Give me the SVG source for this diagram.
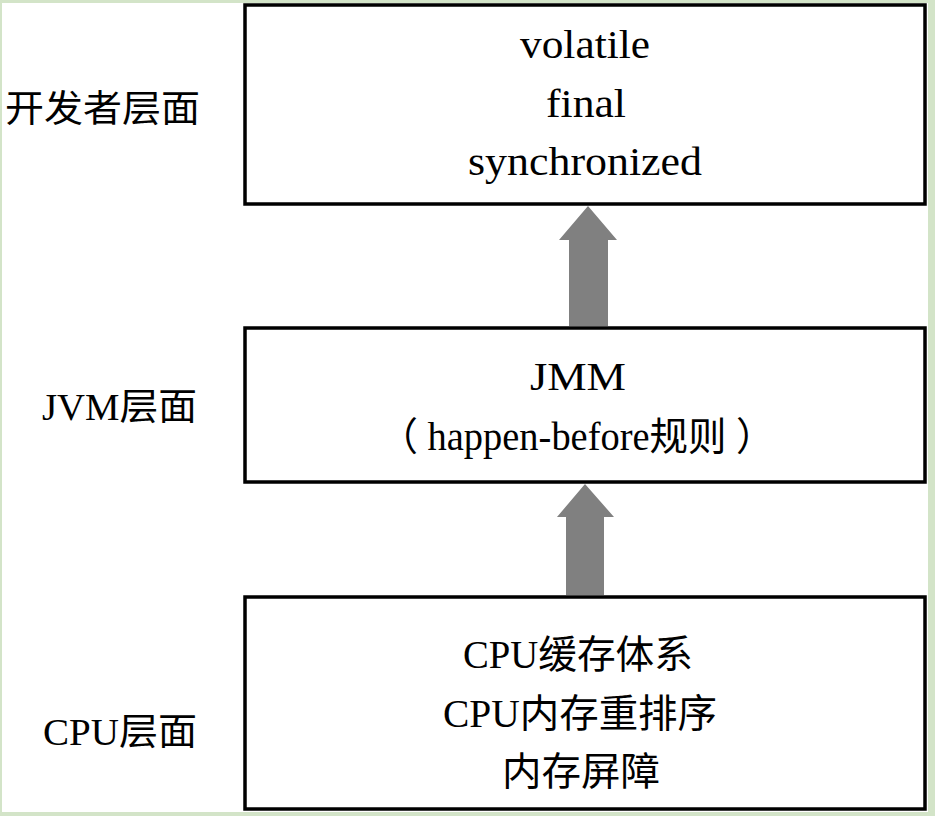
<svg xmlns="http://www.w3.org/2000/svg" width="935" height="816" viewBox="0 0 935 816">
<style>
.box{fill:#ffffff;stroke:#000000;stroke-width:3.5}
.t{font-family:"Liberation Serif","Noto Sans CJK SC",serif;font-size:39px;fill:#000;text-anchor:middle}
.l{font-family:"Liberation Serif","Noto Sans CJK SC",serif;font-size:37px;fill:#000}
.arr{fill:#808080}
</style>
<rect x="0" y="0" width="935" height="816" fill="#d3e4c8"/>
<rect x="2" y="3" width="926" height="809" fill="#ffffff"/>
<g id="layer-dev-label"><text class="l" x="5" y="122" textLength="195" lengthAdjust="spacingAndGlyphs">开发者层面</text></g>
<g id="layer-jvm-label"><text class="l" x="42" y="420" textLength="155" lengthAdjust="spacingAndGlyphs">JVM层面</text></g>
<g id="layer-cpu-label"><text class="l" x="43" y="745" textLength="154" lengthAdjust="spacingAndGlyphs">CPU层面</text></g>
<g id="dev">
<rect class="box" x="245" y="5" width="680" height="199"/>
<text class="t" x="585" y="58" textLength="130" lengthAdjust="spacingAndGlyphs">volatile</text>
<text class="t" x="586" y="117" textLength="80" lengthAdjust="spacingAndGlyphs">final</text>
<text class="t" x="585" y="175" textLength="234" lengthAdjust="spacingAndGlyphs">synchronized</text>
</g>
<g id="jvm">
<rect class="box" x="245" y="328" width="680" height="154"/>
<text class="t" x="578" y="390" textLength="96" lengthAdjust="spacingAndGlyphs">JMM</text>
<text class="t" x="577" y="450" textLength="395" lengthAdjust="spacingAndGlyphs">（ happen-before规则 ）</text>
</g>
<g id="cpu">
<rect class="box" x="245" y="597" width="680" height="212"/>
<text class="t" x="578" y="668" textLength="230" lengthAdjust="spacingAndGlyphs">CPU缓存体系</text>
<text class="t" x="580" y="727" textLength="274" lengthAdjust="spacingAndGlyphs">CPU内存重排序</text>
<text class="t" x="581" y="785" textLength="158" lengthAdjust="spacingAndGlyphs">内存屏障</text>
</g>
<g id="connectors">
<polygon class="arr" points="588,206 617,240 608,240 608,326 569,326 569,240 559,240"/>
<polygon class="arr" points="585,484 614,517 604,517 604,595 566,595 566,517 557,517"/>
</g>
</svg>
